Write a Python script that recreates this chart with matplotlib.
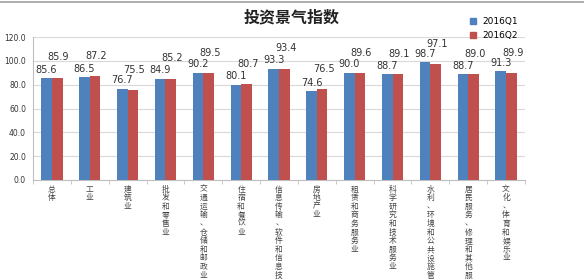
import matplotlib
matplotlib.use("Agg")
import matplotlib.pyplot as plt
import numpy as np
from matplotlib.lines import Line2D

plt.rcParams['font.family'] = ['Noto Sans CJK SC', 'DejaVu Sans']

# chart data
categories = ['总体', '工业', '建筑业', '批发和零售业', '交通运输、仓储和邮政业',
              '住宿和餐饮业', '信息传输、软件和信息技术服务业', '房地产业',
              '租赁和商务服务业', '科学研究和技术服务业', '水利、环境和公共设施管理业',
              '居民服务、修理和其他服务业', '文化、体育和娱乐业']
q1 = [85.6, 86.5, 76.7, 84.9, 90.2, 80.1, 93.3, 74.6, 90.0, 88.7, 98.7, 88.7, 91.3]
q2 = [85.9, 87.2, 75.5, 85.2, 89.5, 80.7, 93.4, 76.5, 89.6, 89.1, 97.1, 89.0, 89.9]
series_names = ['2016Q1', '2016Q2']
yticks = [0, 20, 40, 60, 80, 100, 120]

blue = '#4F81BD'
red = '#C0504D'

fig = plt.figure(figsize=(5.84, 2.79), dpi=100)
ax = fig.add_axes([0.0565, 0.355, 0.8425, 0.512])

x = np.arange(len(categories))
w = 0.28
ax.bar(x - w / 2, q1, w, color=blue, zorder=3)
ax.bar(x + w / 2, q2, w, color=red, zorder=3)

# value labels (Q2 labels lifted higher, as in the original)
for xi, v in zip(x, q1):
    ax.annotate(f'{v:.1f}', (xi - w / 2, v), xytext=(0, 2.5), textcoords='offset points',
                ha='center', va='bottom', fontsize=7, color='#333333', family='DejaVu Sans')
for xi, v in zip(x, q2):
    ax.annotate(f'{v:.1f}', (xi + w / 2, v), xytext=(1, 11), textcoords='offset points',
                ha='center', va='bottom', fontsize=7, color='#333333', family='DejaVu Sans')

ax.set_xlim(-0.5, len(categories) - 0.5)
ax.set_ylim(0, 120)
ax.set_yticks(yticks)
ax.set_yticklabels([f'{t:.1f}' for t in yticks], fontsize=5.5, color='#333333',
                   family='DejaVu Sans')
ax.yaxis.grid(True, color='#D9D9D9', linewidth=0.8, zorder=0)
ax.tick_params(axis='y', length=0, pad=5)

ax.set_xticks(x)
ax.set_xticklabels(['\n'.join(c) for c in categories], fontsize=5.6, va='top',
                   linespacing=1.1, color='#444444')
ax.tick_params(axis='x', which='major', length=0, pad=4)
ax.set_xticks(np.arange(-0.5, len(categories)), minor=True)
ax.tick_params(axis='x', which='minor', length=3, color='#BFBFBF')

for s in ['top', 'right']:
    ax.spines[s].set_visible(False)
for s in ['left', 'bottom']:
    ax.spines[s].set_color('#BFBFBF')
    ax.spines[s].set_linewidth(0.8)

fig.text(0.5, 0.937, '投资景气指数', ha='center', va='center', fontsize=11.5,
         fontweight='bold', color='#222222')

handles = [Line2D([], [], marker='s', linestyle='none', markersize=4, color=blue),
           Line2D([], [], marker='s', linestyle='none', markersize=4, color=red)]
fig.legend(handles, series_names, loc='upper left', bbox_to_anchor=(0.78, 0.968),
           frameon=False, handletextpad=0.1, labelspacing=0.6,
           prop={'family': 'DejaVu Sans', 'size': 6.5})

# top border of the screenshot
fig.add_artist(Line2D([0, 1], [0.993, 0.993], color='#A0A0A0', linewidth=1.2,
                      transform=fig.transFigure))

fig.savefig('out.png', dpi=100)
